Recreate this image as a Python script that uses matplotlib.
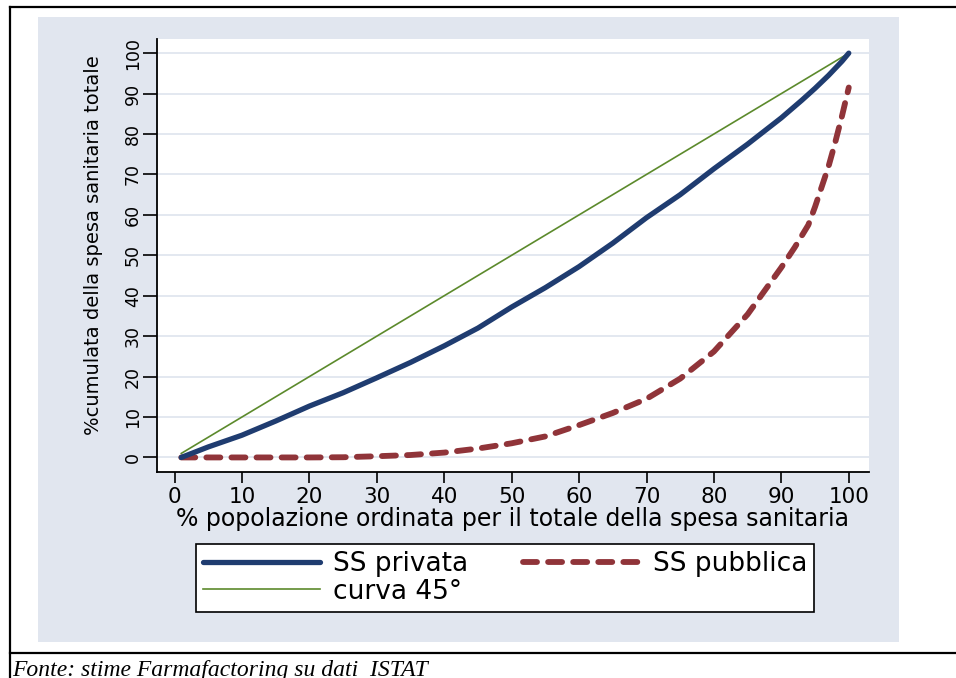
import matplotlib
matplotlib.use("Agg")
import matplotlib.pyplot as plt
from matplotlib.lines import Line2D
from matplotlib.patches import Rectangle

# percentile of population (sorted by total health expenditure)
pct_privata = [1, 5, 10, 15, 20, 25, 30, 35, 40, 45, 50, 55, 60, 65, 70, 75,
               80, 85, 90, 93, 95, 97, 99, 100]
ss_privata = [0, 2.6, 5.5, 9.0, 12.7, 16.0, 19.7, 23.5, 27.6, 32.0, 37.2, 42.0,
              47.2, 53.0, 59.3, 65.0, 71.4, 77.5, 84.0, 88.3, 91.3, 94.5, 98.0, 100]

pct_pubblica = [1, 10, 20, 25, 30, 35, 40, 45, 50, 55, 60, 65, 70, 75, 80, 85,
                90, 92, 94, 95, 96, 97, 98, 99, 100]
ss_pubblica = [0, 0, 0, 0.05, 0.3, 0.6, 1.2, 2.2, 3.5, 5.2, 8.0, 11.0, 14.5, 19.5,
               26.2, 35.4, 47.0, 52.0, 57.5, 62.0, 67.0, 72.0, 78.0, 84.5, 91.5]

pct_45 = [1, 100]
curva_45 = [1, 100]

x_ticks = [0, 10, 20, 30, 40, 50, 60, 70, 80, 90, 100]
y_ticks = [0, 10, 20, 30, 40, 50, 60, 70, 80, 90, 100]

W, H = 956, 678
BG = '#E1E6EF'
NAVY = '#1F3C70'
MAROON = '#903439'
GREEN = '#5C8A2C'


def fx(px):
    return px / W


def fy(py):
    return 1 - py / H


def draw_frame(fig):
    # page rules around the figure
    fig.add_artist(Line2D([fx(10), fx(10)], [fy(6.5), 0], color='black', lw=1.6,
                          transform=fig.transFigure))
    fig.add_artist(Line2D([fx(10), 1], [fy(6.5), fy(6.5)], color='black', lw=1.6,
                          transform=fig.transFigure))
    fig.add_artist(Line2D([fx(10), 1], [fy(653), fy(653)], color='black', lw=1.6,
                          transform=fig.transFigure))
    fig.add_artist(Rectangle((fx(38), fy(642)), fx(899 - 38), (642 - 17) / H,
                             transform=fig.transFigure, facecolor=BG,
                             edgecolor='none', zorder=-5))


def main():
    plt.rcParams['font.family'] = ['DejaVu Sans']
    fig = plt.figure(figsize=(W / 100, H / 100), dpi=100)
    draw_frame(fig)

    ax = fig.add_axes([fx(157), fy(472), fx(869 - 157), (472 - 39) / H])
    ax.set_zorder(1)
    ax.set_facecolor('white')

    l1, = ax.plot(pct_privata, ss_privata, color=NAVY, lw=3.8,
                  solid_capstyle='round', solid_joinstyle='round', zorder=4)
    l2, = ax.plot(pct_pubblica, ss_pubblica, color=MAROON, lw=4.2,
                  dashes=(2.4, 1.9), dash_capstyle='round', zorder=3)
    l3, = ax.plot(pct_45, curva_45, color=GREEN, lw=1.2, zorder=2)

    ax.set_xlim(-2.6, 103)
    ax.set_ylim(-3.6, 103.5)
    ax.set_xticks(x_ticks)
    ax.set_yticks(y_ticks)
    ax.yaxis.grid(True, color=BG, lw=1.3)
    ax.set_axisbelow(True)

    for side in ['top', 'right']:
        ax.spines[side].set_visible(False)
    for side in ['left', 'bottom']:
        ax.spines[side].set_linewidth(1.3)

    ax.tick_params(axis='x', direction='out', length=8, width=1.2,
                   labelsize=15.5, pad=2.5)
    ax.tick_params(axis='y', direction='out', length=10, width=1.2,
                   labelsize=12.5, pad=1, labelrotation=90)
    for lbl in ax.get_yticklabels():
        lbl.set_va('center')

    ax.set_xlabel('% popolazione ordinata per il totale della spesa sanitaria',
                  fontsize=17, va='center')
    ax.xaxis.set_label_coords(0.5, (472 - 519) / 433)
    ax.set_ylabel('%cumulata della spesa sanitaria totale', fontsize=14,
                  va='center')
    ax.yaxis.set_label_coords((94 - 157) / 712, (472 - 245) / 433)

    leg = fig.legend([l1, l3, l2], ['SS privata', 'curva 45°', 'SS pubblica'],
                     ncol=2, loc='upper left',
                     bbox_to_anchor=(fx(196), fy(544)),
                     fontsize=19, handlelength=4.4, handletextpad=0.5,
                     borderpad=0.28, labelspacing=0.05, borderaxespad=0,
                     columnspacing=2.1,
                     fancybox=False, framealpha=1, edgecolor='black')
    leg.get_frame().set_linewidth(1.2)

    fig.text(fx(12), fy(676), 'Fonte: stime Farmafactoring su dati  ISTAT',
             family='Liberation Serif', style='italic', fontsize=17,
             ha='left', va='baseline')

    fig.savefig('out.png', dpi=100)


if __name__ == "__main__":
    main()
